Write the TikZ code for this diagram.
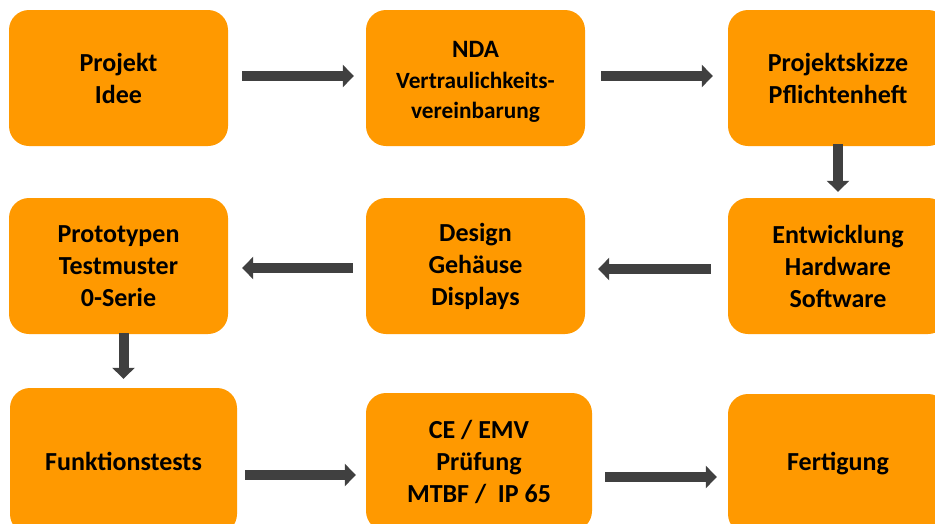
\documentclass[tikz,border=0pt]{standalone}
\usepackage{fontspec}
\setmainfont{Carlito}
\usetikzlibrary{arrows.meta}
\definecolor{boxorange}{RGB}{255,153,0}
\definecolor{arrowgray}{RGB}{64,64,64}
\tikzset{
  stepbox/.style={fill=boxorange, draw=none, rounded corners=20pt, inner sep=0pt,
    align=center, font=\bfseries\fontsize{26}{32}\selectfont, text=black},
  flowarrow/.style={draw=arrowgray, line width=10pt,
    -{Triangle[length=11pt,width=22pt]}},
}
\begin{document}
\begin{tikzpicture}[x=1pt,y=-1pt]
\useasboundingbox (0,0) rectangle (935,523);
\clip (0,0) rectangle (935,523);
% row 1
\node[stepbox, minimum width=219pt, minimum height=136pt] (idee) at (118.5,78) {Projekt\\Idee};
\node[stepbox, minimum width=219pt, minimum height=136pt, font=\bfseries\fontsize{25}{30.5}\selectfont] (nda) at (475.5,78) {\rule{0pt}{24pt}NDA\\{\fontsize{23.3}{30.5}\selectfont Vertraulichkeits-}\\{\fontsize{23.3}{30.5}\selectfont vereinbarung}};
\node[stepbox, minimum width=220pt, minimum height=136pt] (skizze) at (838,78) {Projektskizze\\Pflichtenheft};
% row 2
\node[stepbox, minimum width=220pt, minimum height=136pt] (entw) at (838,266) {Entwicklung\\Hardware\\Software};
\node[stepbox, minimum width=219pt, minimum height=136pt] (design) at (475.5,266) {Design\\Geh\"ause\\Displays};
\node[stepbox, minimum width=219pt, minimum height=136pt] (proto) at (118.5,266) {Prototypen\\Testmuster\\0-Serie};
% row 3
\node[stepbox, minimum width=227pt, minimum height=146pt] (funk) at (123.5,461) {Funktionstests};
\node[stepbox, minimum width=226pt, minimum height=138pt] (ce) at (479,462) {CE / EMV\\Pr\"ufung\\MTBF /\ \ IP 65};
\node[stepbox, minimum width=220pt, minimum height=140pt] (fert) at (838,464) {Fertigung};
% arrows
\draw[flowarrow, shorten <=14pt, shorten >=12pt] ([yshift=2pt]idee.east) -- ([yshift=2pt]nda.west);
\draw[flowarrow, shorten <=16pt, shorten >=15pt] ([yshift=2pt]nda.east) -- ([yshift=2pt]skizze.west);
\draw[flowarrow, shorten <=-2pt, shorten >=6pt] (skizze.south) -- (entw.north);
\draw[flowarrow, shorten <=17pt, shorten >=13pt] ([yshift=-3pt]entw.west) -- ([yshift=-3pt]design.east);
\draw[flowarrow, shorten <=13pt, shorten >=14pt] ([yshift=-2pt]design.west) -- ([yshift=-2pt]proto.east);
\draw[flowarrow, shorten <=-1pt, shorten >=9pt] (proto.south -| funk.north) -- (funk.north);
\draw[flowarrow, shorten <=8pt, shorten >=10pt] ([yshift=-14pt]funk.east) -- ([yshift=-14pt]funk.east -| ce.west);
\draw[flowarrow, shorten <=13pt, shorten >=11pt] ([yshift=-15pt]ce.east) -- ([yshift=-15pt]ce.east -| fert.west);
\end{tikzpicture}
\end{document}
